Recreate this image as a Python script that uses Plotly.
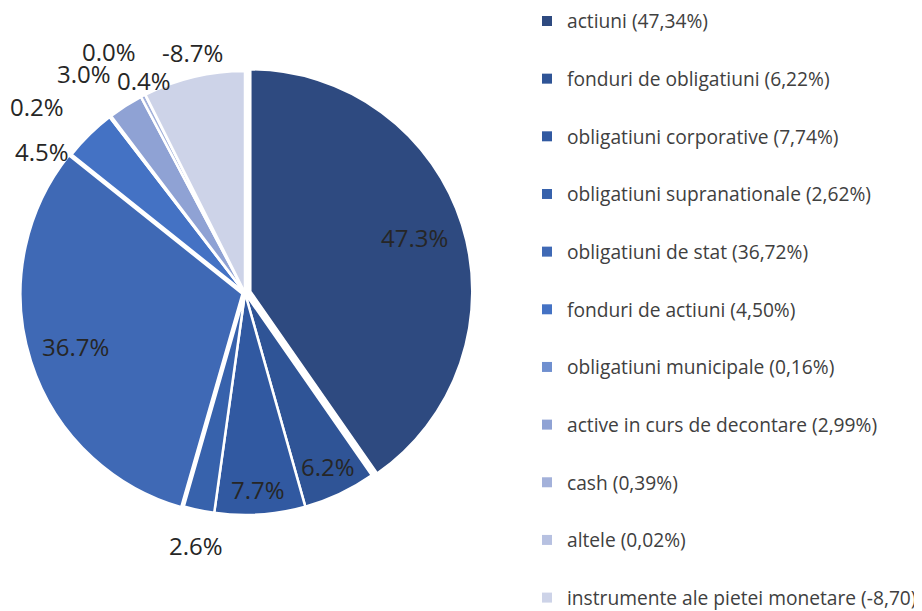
import math
import plotly.graph_objects as go

# ---- data ----
categories = [
    "actiuni", "fonduri de obligatiuni", "obligatiuni corporative",
    "obligatiuni supranationale", "obligatiuni de stat", "fonduri de actiuni",
    "obligatiuni municipale", "active in curs de decontare", "cash", "altele",
    "instrumente ale pietei monetare",
]
shares = [47.34, 6.22, 7.74, 2.62, 36.72, 4.50, 0.16, 2.99, 0.39, 0.02, -8.70]
legend_labels = [
    "actiuni (47,34%)", "fonduri de obligatiuni (6,22%)",
    "obligatiuni corporative (7,74%)", "obligatiuni supranationale (2,62%)",
    "obligatiuni de stat (36,72%)", "fonduri de actiuni (4,50%)",
    "obligatiuni municipale (0,16%)", "active in curs de decontare (2,99%)",
    "cash (0,39%)", "altele (0,02%)", "instrumente ale pietei monetare (-8,70)",
]
slice_labels = [f"{v:.1f}%" for v in shares]

# ---- style ----
W, H = 922, 611
colors = ["#2E4A80", "#2F5496", "#3159A1", "#3762AC", "#3F69B5", "#4472C4",
          "#6F8FCF", "#8FA2D4", "#A3B1DA", "#B7C1E1", "#CDD3E8"]
pulls = [0.025, 0, 0, 0, 0.012, 0, 0, 0, 0, 0, 0]
# label placement (best-fit style): angle nudge (deg) and radius factor
label_nudge = [-0.8, -0.3, 0.1, -1.0, 0.1, -10.7, -10.8, -3.7, 1.9, -2.6, 1.1]
label_rf = [0.806, 0.865, 0.885, 1.158, 0.803, 1.113, 1.26, 1.225, 1.06, 1.25, 1.11]
dom_x = [0.01025, 0.50385]
dom_y = [0.16113, 0.90597]
label_font = dict(family="Open Sans", size=24, color="#262626")

values = [abs(v) for v in shares]

fig = go.Figure()
fig.add_trace(go.Pie(
    labels=categories,
    values=values,
    text=slice_labels,
    textinfo="none",
    sort=False,
    direction="clockwise",
    rotation=0,
    pull=pulls,
    automargin=False,
    marker=dict(colors=colors, line=dict(color="white", width=2.5)),
    showlegend=False,
    hoverinfo="label+text",
    domain=dict(x=dom_x, y=dom_y),
))

# data labels placed from slice mid-angles (same geometry as the pie)
total = sum(values)
radius = min((dom_x[1] - dom_x[0]) * W, (dom_y[1] - dom_y[0]) * H) / 2 / (1 + max(pulls))
cx = (dom_x[0] + dom_x[1]) / 2
cy = (dom_y[0] + dom_y[1]) / 2
cum = 0.0
for i, v in enumerate(values):
    mid = (cum + v / 2) / total * 360.0
    cum += v
    th = math.radians(mid + label_nudge[i])
    d = label_rf[i] * radius
    fig.add_annotation(
        x=cx + d * math.sin(th) / W, y=cy + d * math.cos(th) / H,
        xref="paper", yref="paper", text=slice_labels[i], showarrow=False,
        xanchor="center", yanchor="middle", font=label_font,
    )

# legend entries (one group each for even spacing)
for lab, col in zip(legend_labels, colors):
    fig.add_trace(go.Scatter(
        x=[None], y=[None], mode="markers", name=lab,
        marker=dict(symbol="square", size=10, color=col),
        legendgroup=lab, showlegend=True, hoverinfo="skip",
    ))

fig.update_layout(
    width=W, height=H,
    margin=dict(l=0, r=0, t=0, b=0, autoexpand=False),
    paper_bgcolor="white", plot_bgcolor="white",
    xaxis=dict(visible=False), yaxis=dict(visible=False),
    legend=dict(
        x=0.5629, y=1.0098, xanchor="left", yanchor="top", maxheight=1,
        traceorder="grouped", tracegroupgap=29.7,
        font=dict(family="Open Sans", size=19.2, color="#404040"),
        bgcolor="rgba(0,0,0,0)", itemclick=False,
    ),
)

fig.write_html("out.html")
